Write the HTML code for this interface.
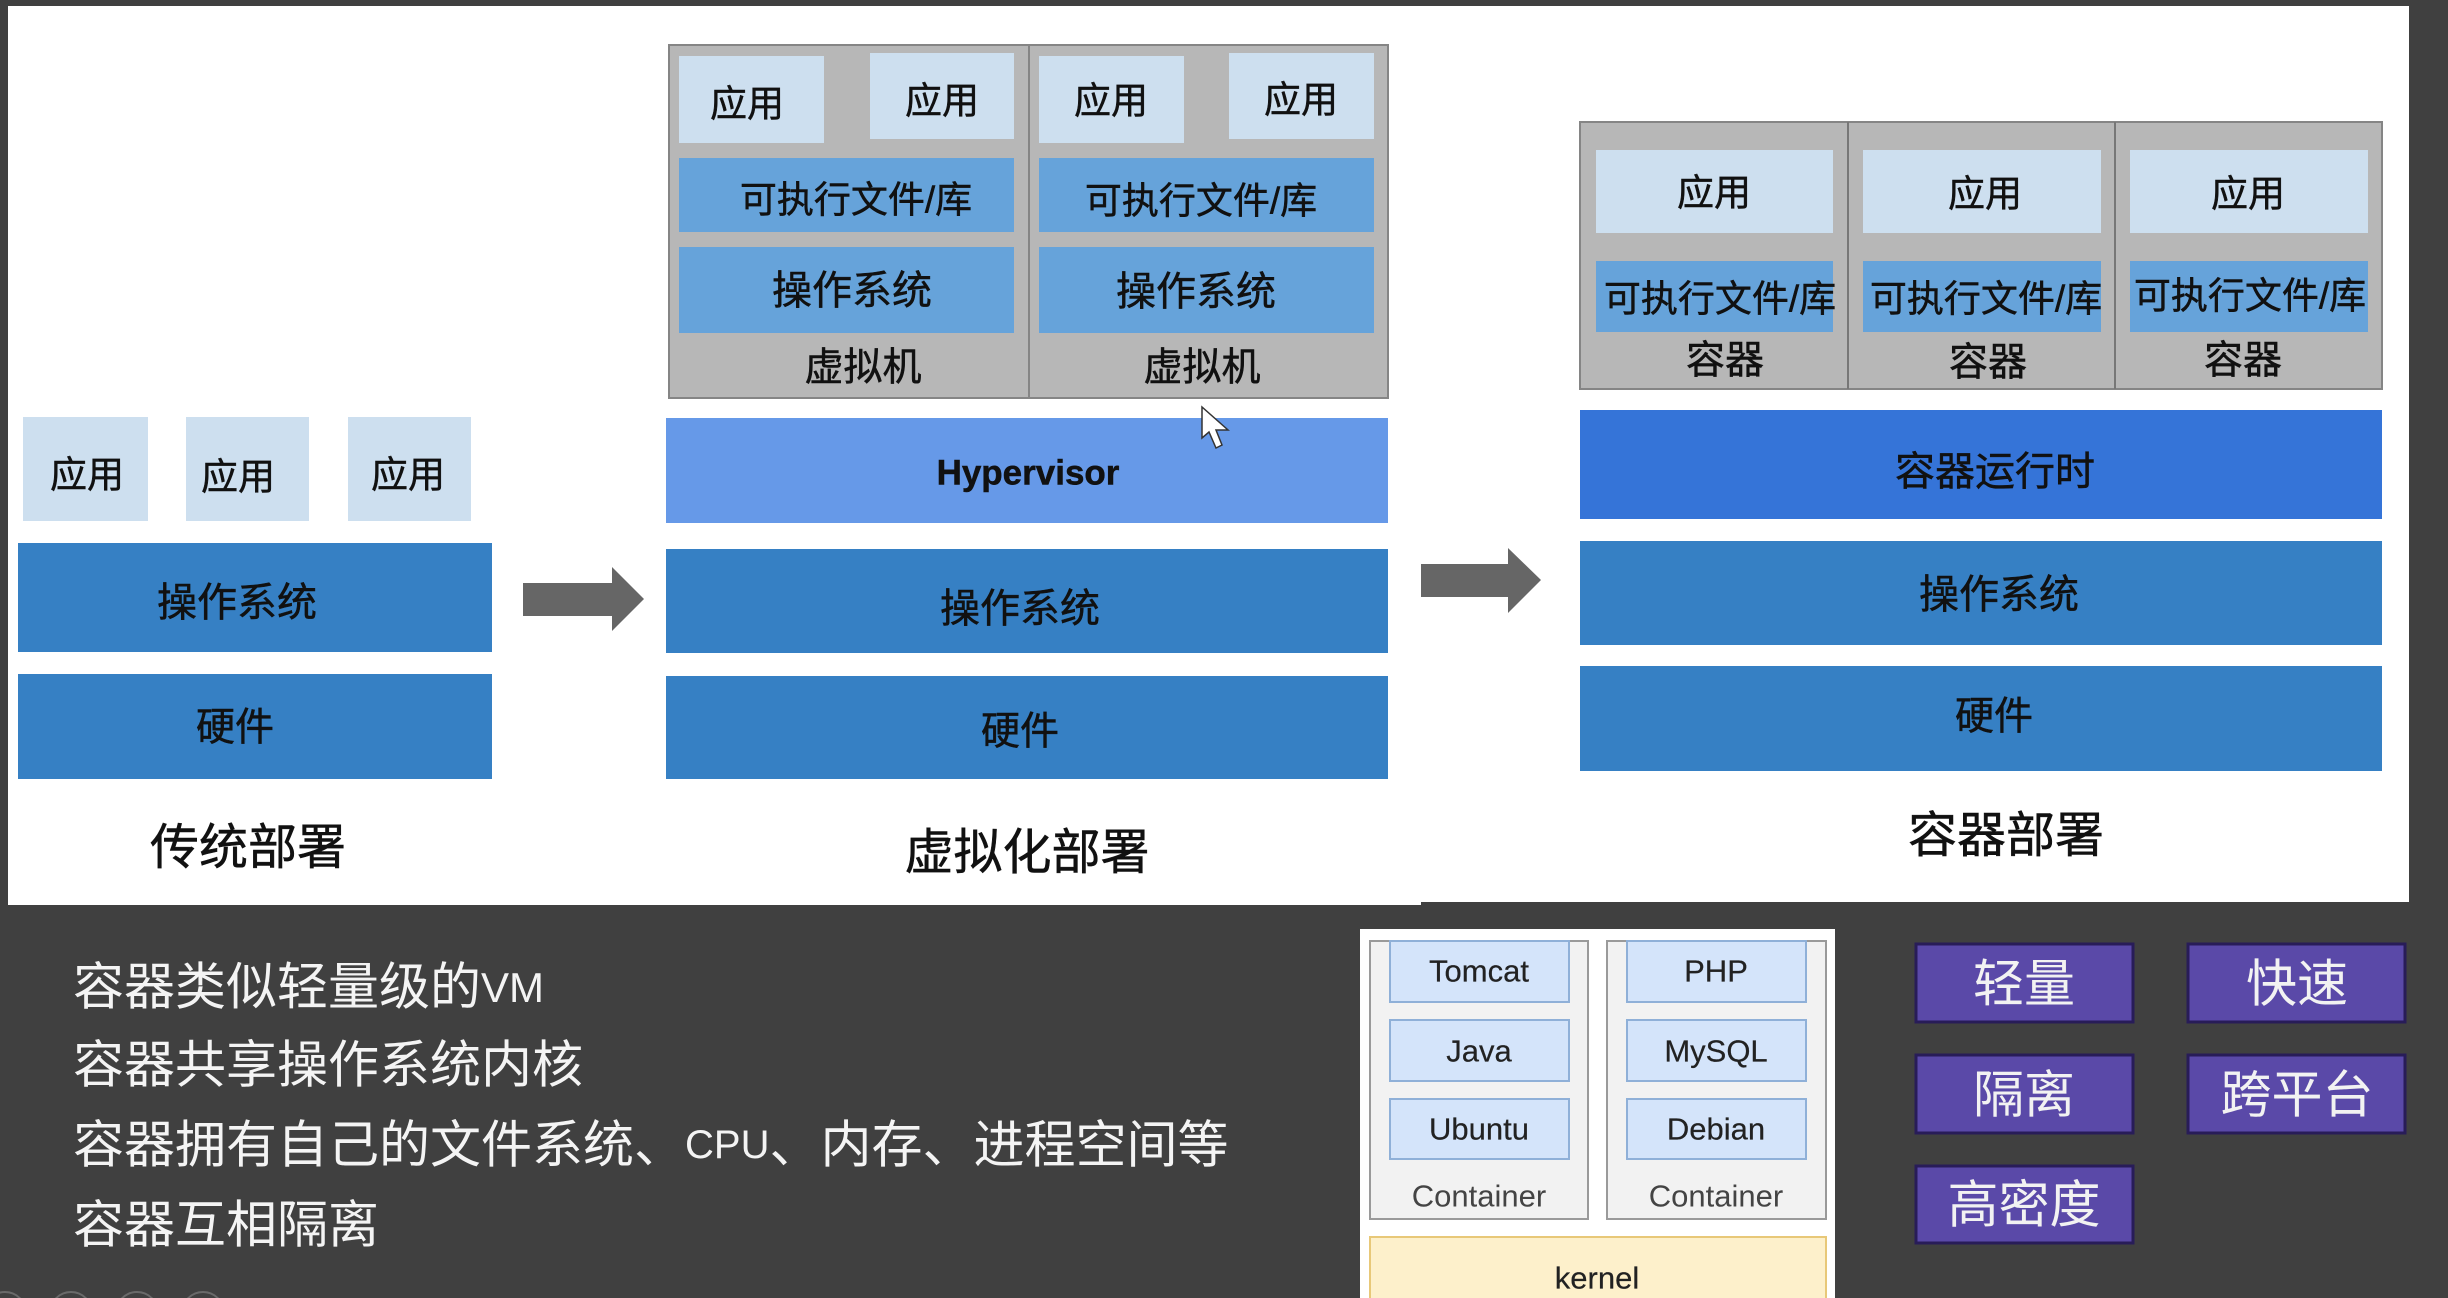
<!DOCTYPE html>
<html><head><meta charset="utf-8"><style>
html,body{margin:0;padding:0;background:#404040}
svg{display:block}
text{font-family:"Liberation Sans","Noto Sans CJK SC",sans-serif;fill:#111;stroke:#111;stroke-width:.5px;text-anchor:middle;dominant-baseline:central;transform:translate(1px,2px)}
.a{font-size:37px}.e{font-size:37px}.o{font-size:40px}.h{font-size:39px}.v{font-size:39px}
.t{font-size:49px}
.l{font-size:51px;fill:#f4f4f4;stroke:none;text-anchor:start}
.p{font-size:51px;fill:#f2f2f2;stroke:none}
.c{font-size:31px;fill:#222;stroke:#222;stroke-width:.2px}.n{font-size:31px;fill:#444;stroke:none}
.app{fill:#cddfef}.dk{fill:#3680c4}.md{fill:#66a3da}
.box{fill:#b7b7b7;stroke:#858585;stroke-width:2}
.cb{fill:#f2f2f2;stroke:#9a9a9a;stroke-width:2}
.ci{fill:#d4e4fa;stroke:#8fb0d8;stroke-width:2}
.pu{fill:#5a49a8;stroke:#281c58;stroke-width:3}
</style></head><body>
<svg width="2448" height="1298" viewBox="0 0 2448 1298" xmlns="http://www.w3.org/2000/svg">
<rect width="2448" height="1298" fill="#404040"/>
<rect x="8" y="6" width="1413" height="899" fill="#fff"/>
<rect x="1421" y="6" width="988" height="896" fill="#fff"/>

<!-- traditional -->
<rect class="app" x="23" y="417" width="125" height="104"/>
<rect class="app" x="186" y="417" width="123" height="104"/>
<rect class="app" x="348" y="417" width="123" height="104"/>
<text class="a" x="86" y="473">应用</text>
<text class="a" x="237" y="475">应用</text>
<text class="a" x="407" y="473">应用</text>
<rect class="dk" x="18" y="543" width="474" height="109"/>
<rect class="dk" x="18" y="674" width="474" height="105"/>
<text class="o" x="236" y="601">操作系统</text>
<text class="h" x="234" y="726">硬件</text>
<text class="t" x="247" y="846">传统部署</text>
<polygon fill="#666" points="523,583 612,583 612,567 644,599 612,631 612,616 523,616"/>

<!-- VM -->
<rect class="box" x="669" y="45" width="719" height="353"/>
<line x1="1029" y1="45" x2="1029" y2="398" stroke="#858585" stroke-width="2"/>
<rect class="app" x="679" y="56" width="145" height="87"/>
<rect class="app" x="870" y="53" width="144" height="86"/>
<rect class="app" x="1039" y="56" width="145" height="87"/>
<rect class="app" x="1229" y="53" width="145" height="86"/>
<text class="a" x="746" y="102">应用</text>
<text class="a" x="941" y="99">应用</text>
<text class="a" x="1110" y="99">应用</text>
<text class="a" x="1300" y="98">应用</text>
<rect class="md" x="679" y="158" width="335" height="74"/>
<rect class="md" x="1039" y="158" width="335" height="74"/>
<text class="e" x="855" y="198">可执行文件/库</text>
<text class="e" x="1200" y="199">可执行文件/库</text>
<rect class="md" x="679" y="247" width="335" height="86"/>
<rect class="md" x="1039" y="247" width="335" height="86"/>
<text class="o" x="851" y="289">操作系统</text>
<text class="o" x="1195" y="290">操作系统</text>
<text class="v" x="862" y="366">虚拟机</text>
<text class="v" x="1201" y="366">虚拟机</text>
<rect fill="#6699e8" x="666" y="418" width="722" height="105"/>
<text x="1027" y="471" font-size="35" font-weight="700">Hypervisor</text>
<rect class="dk" x="666" y="549" width="722" height="104"/>
<rect class="dk" x="666" y="676" width="722" height="103"/>
<text class="o" x="1019" y="607">操作系统</text>
<text class="h" x="1019" y="730">硬件</text>
<text class="t" x="1026" y="851">虚拟化部署</text>
<polygon fill="#666" points="1421,564 1508,564 1508,548 1541,580 1508,613 1508,597 1421,597"/>
<polygon fill="#fff" stroke="#333" stroke-width="1.5" points="1202,407 1202,438 1209,432 1216,448 1222,445 1216,430 1228,430"/>

<!-- container -->
<rect class="box" x="1580" y="122" width="802" height="267"/>
<line x1="1848" y1="122" x2="1848" y2="389" stroke="#777" stroke-width="2"/>
<line x1="2115" y1="122" x2="2115" y2="389" stroke="#777" stroke-width="2"/>
<rect class="app" x="1596" y="150" width="237" height="83"/>
<rect class="app" x="1863" y="150" width="238" height="83"/>
<rect class="app" x="2130" y="150" width="238" height="83"/>
<text class="a" x="1713" y="191">应用</text>
<text class="a" x="1984" y="192">应用</text>
<text class="a" x="2247" y="192">应用</text>
<rect class="md" x="1596" y="261" width="237" height="71"/>
<rect class="md" x="1863" y="261" width="238" height="71"/>
<rect class="md" x="2130" y="261" width="238" height="71"/>
<text class="e" x="1719" y="297">可执行文件/库</text>
<text class="e" x="1985" y="297">可执行文件/库</text>
<text class="e" x="2249" y="294">可执行文件/库</text>
<text class="v" x="1724" y="359">容器</text>
<text class="v" x="1987" y="361">容器</text>
<text class="v" x="2242" y="359">容器</text>
<rect fill="#3574d8" x="1580" y="410" width="802" height="109"/>
<text class="o" x="1994" y="470">容器运行时</text>
<rect class="dk" x="1580" y="541" width="802" height="104"/>
<rect class="dk" x="1580" y="666" width="802" height="105"/>
<text class="o" x="1998" y="593">操作系统</text>
<text class="h" x="1993" y="715">硬件</text>
<text class="t" x="2005" y="834">容器部署</text>

<!-- bottom text -->
<text class="l" x="72" y="985">容器类似轻量级的<tspan font-size="42">VM</tspan></text>
<text class="l" x="72" y="1063">容器共享操作系统内核</text>
<text class="l" x="72" y="1143">容器拥有自己的文件系统、<tspan font-size="40">CPU</tspan>、内存、进程空间等</text>
<text class="l" x="72" y="1223">容器互相隔离</text>
<g fill="none" stroke="#6a6a6a" stroke-width="2">
<circle cx="5" cy="1313" r="21"/><circle cx="71" cy="1313" r="21"/><circle cx="137" cy="1313" r="21"/><circle cx="203" cy="1313" r="21"/>
</g>

<!-- card -->
<rect fill="#fff" x="1360" y="929" width="475" height="369"/>
<rect class="cb" x="1370" y="941" width="218" height="278"/>
<rect class="cb" x="1607" y="941" width="219" height="278"/>
<rect class="ci" x="1390" y="941" width="179" height="61"/>
<rect class="ci" x="1390" y="1020" width="179" height="61"/>
<rect class="ci" x="1390" y="1099" width="179" height="60"/>
<rect class="ci" x="1627" y="941" width="179" height="61"/>
<rect class="ci" x="1627" y="1020" width="179" height="61"/>
<rect class="ci" x="1627" y="1099" width="179" height="60"/>
<text class="c" x="1478" y="969">Tomcat</text>
<text class="c" x="1478" y="1049">Java</text>
<text class="c" x="1478" y="1127">Ubuntu</text>
<text class="n" x="1478" y="1194">Container</text>
<text class="c" x="1715" y="969">PHP</text>
<text class="c" x="1715" y="1049">MySQL</text>
<text class="c" x="1715" y="1127">Debian</text>
<text class="n" x="1715" y="1194">Container</text>
<rect fill="#fdf0cb" stroke="#e8c878" stroke-width="2" x="1370" y="1237" width="456" height="80"/>
<text class="c" x="1596" y="1276">kernel</text>

<!-- purple -->
<rect class="pu" x="1916" y="944" width="217" height="78"/>
<rect class="pu" x="2188" y="944" width="217" height="78"/>
<rect class="pu" x="1916" y="1055" width="217" height="78"/>
<rect class="pu" x="2188" y="1055" width="217" height="78"/>
<rect class="pu" x="1916" y="1166" width="217" height="77"/>
<text class="p" x="2023" y="982">轻量</text>
<text class="p" x="2296" y="982">快速</text>
<text class="p" x="2023" y="1093">隔离</text>
<text class="p" x="2296" y="1093">跨平台</text>
<text class="p" x="2023" y="1203">高密度</text>
</svg>
</body></html>
